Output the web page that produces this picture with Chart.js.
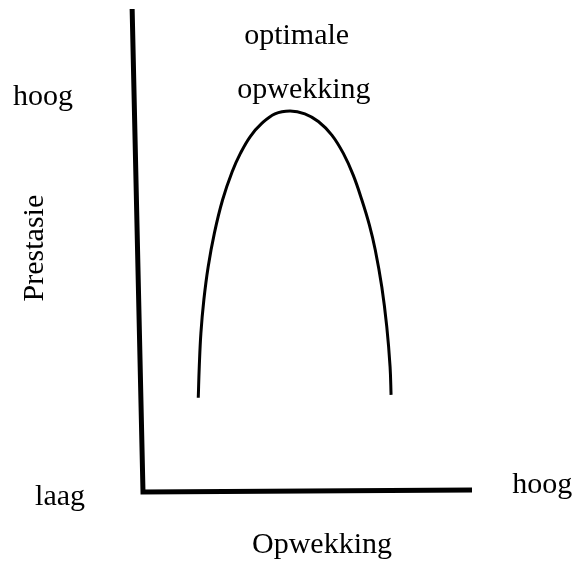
<!DOCTYPE html>
<html lang="af">
<head>
    <meta charset="UTF-8">
    <title>Prestasie en opwekking</title>
    <script src="https://cdn.jsdelivr.net/npm/chart.js"></script>
    <style>
        body {
            margin: 0;
            background: #fff;
        }
        .chart-box {
            width: 576px;
            height: 562px;
        }
    </style>
</head>
<body>
    <div class="chart-box">
        <canvas id="curveChart" width="576" height="562"></canvas>
    </div>
    <script>
        // Inverted-U: performance against arousal (0..100 on both axes)
        const arousal = [16.8, 17.1, 17.6, 18.5, 19.8, 21.7, 24.2, 27.1, 29.6, 32.6, 36.1, 40.1, 44.7,
                         49.2, 53.3, 57.4, 60.9, 63.9, 66.5, 68.8, 70.6, 72.6, 74.1, 75.1, 75.4];
        const performance = [19.5, 25.9, 32.9, 39.8, 46.6, 53.6, 60.5, 66.3, 70.1, 73.6, 76.3, 78.3, 78.9,
                             78.3, 76.7, 73.9, 70.1, 65.6, 60.5, 55.3, 50.1, 42.4, 34.2, 25.9, 20.1];

        // the two axis strokes (vertical one leans a little, as drawn)
        const axisX = [-3.3, 0, 100];
        const axisY = [100, 0, 0.4];

        const xTitle = 'Opwekking';
        const yTitle = 'Prestasie';
        const lowLabel = 'laag';
        const highLabel = 'hoog';
        const peakLabel = ['optimale', 'opwekking'];

        const curvePoints = arousal.map((v, i) => ({ x: v, y: performance[i] }));
        const axisPoints = axisX.map((v, i) => ({ x: v, y: axisY[i] }));

        // writes the free-standing labels at positions given in axis units
        const textLabels = {
            id: 'textLabels',
            afterDraw(chart, args, opts) {
                const { ctx, scales: { x, y } } = chart;
                ctx.save();
                ctx.font = opts.font;
                ctx.fillStyle = '#000';
                ctx.textBaseline = 'alphabetic';
                opts.items.forEach(item => {
                    ctx.save();
                    ctx.translate(x.getPixelForValue(item.x), y.getPixelForValue(item.y));
                    if (item.rotate) ctx.rotate(item.rotate);
                    ctx.textAlign = item.align || 'center';
                    ctx.fillText(item.text, 0, 0);
                    ctx.restore();
                });
                ctx.restore();
            }
        };

        new Chart(document.getElementById('curveChart'), {
            type: 'line',
            data: {
                datasets: [{
                    data: curvePoints,
                    borderColor: '#000',
                    borderWidth: 3,
                    pointRadius: 0,
                    tension: 0.4,
                    fill: false,
                    clip: false
                }, {
                    data: axisPoints,
                    borderColor: '#000',
                    borderWidth: 5,
                    borderJoinStyle: 'miter',
                    borderCapStyle: 'butt',
                    pointRadius: 0,
                    tension: 0,
                    fill: false,
                    clip: false
                }]
            },
            options: {
                responsive: false,
                animation: false,
                layout: {
                    padding: { left: 143, right: 104, top: 9, bottom: 70 }
                },
                scales: {
                    x: { type: 'linear', min: 0, max: 100, display: false },
                    y: { type: 'linear', min: 0, max: 100, display: false }
                },
                plugins: {
                    legend: { display: false },
                    tooltip: { enabled: false },
                    textLabels: {
                        font: '30px "Liberation Serif", "DejaVu Serif", serif',
                        items: [
                            { text: peakLabel[0], x: 46.7, y: 92.8 },
                            { text: peakLabel[1], x: 48.9, y: 81.6 },
                            { text: highLabel, x: -39.5, y: 80.1, align: 'left' },
                            { text: lowLabel, x: -32.8, y: -2.7, align: 'left' },
                            { text: highLabel, x: 112.2, y: -0.2, align: 'left' },
                            { text: xTitle, x: 54.4, y: -12.6 },
                            { text: yTitle, x: -30.4, y: 50.5, rotate: -Math.PI / 2 }
                        ]
                    }
                }
            },
            plugins: [textLabels]
        });
    </script>
</body>
</html>
